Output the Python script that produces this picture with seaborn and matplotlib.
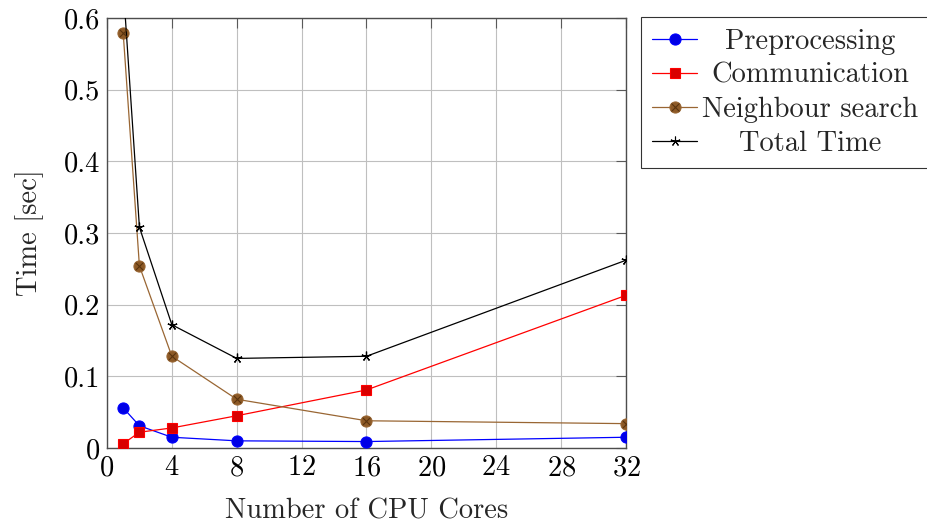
import matplotlib
matplotlib.use("Agg")
import matplotlib.pyplot as plt
import seaborn as sns
import pandas as pd
from matplotlib.lines import Line2D
from matplotlib.legend_handler import HandlerTuple

cores = [1, 2, 4, 8, 16, 32]
preprocessing = [0.056, 0.031, 0.015, 0.010, 0.009, 0.015]
communication = [0.006, 0.022, 0.028, 0.045, 0.081, 0.213]
neighbour = [0.579, 0.254, 0.128, 0.068, 0.038, 0.034]
total = [0.645, 0.308, 0.172, 0.125, 0.128, 0.262]
series_names = ["Preprocessing", "Communication", "Neighbour search", "Total Time"]
x_ticks = [0, 4, 8, 12, 16, 20, 24, 28, 32]
y_ticks = [0, 0.1, 0.2, 0.3, 0.4, 0.5, 0.6]
y_tick_labels = ["0", "0.1", "0.2", "0.3", "0.4", "0.5", "0.6"]

sns.set_theme(style="white")
plt.rcParams['font.family'] = ['cmr10', 'DejaVu Serif']
plt.rcParams['axes.formatter.use_mathtext'] = True
plt.rcParams['mathtext.fontset'] = 'cm'

FS = 20.5

df = pd.DataFrame({
    "cores": cores * 4,
    "time": preprocessing + communication + neighbour + total,
    "series": sum([[n] * len(cores) for n in series_names], []),
})

fig = plt.figure(figsize=(9.27, 5.23), dpi=100)
ax = fig.add_axes([0.1154, 0.1434, 0.5599, 0.8222])

line_col = {"Preprocessing": (0, 0, 1), "Communication": (1, 0, 0),
            "Neighbour search": (0.6, 0.4, 0.2), "Total Time": (0, 0, 0)}
mk = {"Preprocessing": "o", "Communication": "s", "Neighbour search": "o", "Total Time": (5, 2, 0)}
mfc = {"Preprocessing": (0, 0, 0.9), "Communication": (0.85, 0, 0),
       "Neighbour search": (0.55, 0.35, 0.15), "Total Time": "black"}
ms = {"Preprocessing": 8, "Communication": 7.5, "Neighbour search": 8, "Total Time": 7}

handles = []
for name in series_names:
    sub = df[df.series == name]
    sns.lineplot(data=sub, x="cores", y="time", ax=ax, color=line_col[name], lw=0.9,
                 marker=mk[name], markersize=ms[name], markerfacecolor=mfc[name],
                 markeredgecolor=line_col[name], markeredgewidth=0.8 if name != "Total Time" else 0.9,
                 legend=False, clip_on=True, zorder=3)
    h = Line2D([], [], color=line_col[name], lw=0.9, marker=mk[name], markersize=ms[name],
               markerfacecolor=mfc[name], markeredgecolor=line_col[name], markeredgewidth=0.8)
    if name == "Neighbour search":
        sns.scatterplot(data=sub, x="cores", y="time", ax=ax, marker="x", s=30,
                        color=(0.35, 0.2, 0.05), linewidth=0.8, legend=False, zorder=4)
        hx = Line2D([], [], ls="none", marker="x", markersize=5.2, color=(0.35, 0.2, 0.05),
                    markeredgewidth=0.8)
        handles.append((h, hx))
    else:
        handles.append(h)

ax.set_xlim(0, 32)
ax.set_ylim(0, 0.6)
ax.set_xticks(x_ticks)
ax.set_yticks(y_ticks)
ax.set_yticklabels(y_tick_labels)
ax.grid(True, color=(0.75, 0.75, 0.75), lw=0.8)
ax.set_axisbelow(True)
ax.tick_params(direction="in", length=7, width=0.8, top=True, right=True,
               labelsize=FS, colors=(0.35, 0.35, 0.35), labelcolor="black", pad=5)
for s in ax.spines.values():
    s.set_color((0.3, 0.3, 0.3))
    s.set_linewidth(1.0)
ax.set_xlabel("Number of CPU Cores", fontsize=FS, labelpad=12)
ax.set_ylabel("Time [sec]", fontsize=FS, labelpad=14)

leg = ax.legend(handles, series_names, loc="upper left", bbox_to_anchor=(1.029, 1.002),
                fontsize=FS, frameon=True, fancybox=False, edgecolor="black",
                handlelength=1.55, handletextpad=0.2, borderpad=0.4, labelspacing=0.27,
                borderaxespad=0,
                handler_map={tuple: HandlerTuple(ndivide=1, pad=0)}, markerfirst=True)
leg.get_frame().set_linewidth(0.8)

fig.canvas.draw()
r = fig.canvas.get_renderer()
texts = leg.get_texts()
widths = [t.get_window_extent(r).width for t in texts]
wmax = max(widths)
for t, w in zip(texts, widths):
    t.set_x((wmax - w) / 2)

fig.savefig("out.png", dpi=100)
